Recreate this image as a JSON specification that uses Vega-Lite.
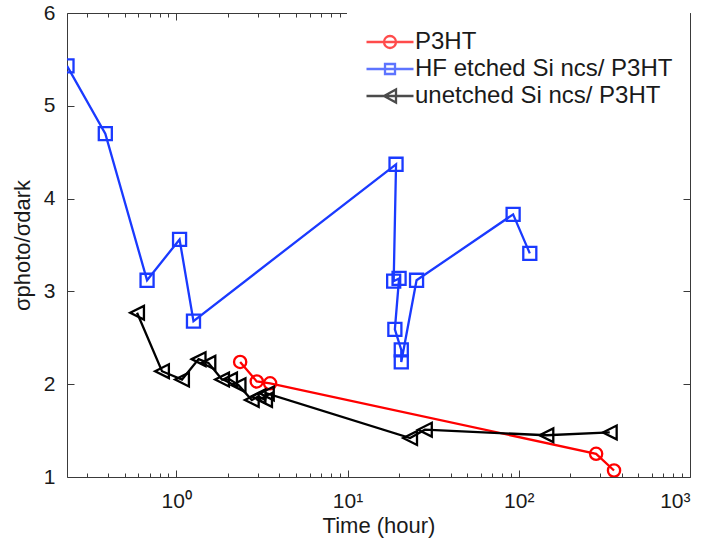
{
  "$schema": "https://vega.github.io/schema/vega-lite/v6.json",
  "width": 623,
  "height": 464,
  "autosize": "none",
  "padding": {"left": 67, "top": 13, "right": 17, "bottom": 68},
  "background": "white",
  "config": {
    "view": {"stroke": "#3a3a3a", "strokeWidth": 1},
    "font": "Liberation Sans",
    "axis": {
      "grid": false,
      "domain": false,
      "labelFont": "Liberation Sans",
      "labelFontSize": 21,
      "labelColor": "#1a1a1a",
      "titleFont": "Liberation Sans",
      "titleFontSize": 22,
      "titleFontWeight": "normal",
      "titleColor": "#1a1a1a",
      "tickColor": "#3a3a3a",
      "tickWidth": 1
    },
    "legend": {
      "labelFont": "Liberation Sans",
      "labelFontSize": 24,
      "labelColor": "#1a1a1a",
      "labelLimit": 0
    }
  },
  "data": {
    "values": [
      {"series": "P3HT", "idx": 1, "t": 2.36, "r": 2.24},
      {"series": "P3HT", "idx": 2, "t": 2.95, "r": 2.03},
      {"series": "P3HT", "idx": 3, "t": 3.53, "r": 2.01},
      {"series": "P3HT", "idx": 4, "t": 283, "r": 1.25},
      {"series": "P3HT", "idx": 5, "t": 360, "r": 1.07},

      {"series": "HF etched Si ncs/ P3HT", "idx": 1, "t": 0.23, "r": 5.43},
      {"series": "HF etched Si ncs/ P3HT", "idx": 2, "t": 0.385, "r": 4.7},
      {"series": "HF etched Si ncs/ P3HT", "idx": 3, "t": 0.675, "r": 3.12},
      {"series": "HF etched Si ncs/ P3HT", "idx": 4, "t": 1.045, "r": 3.56},
      {"series": "HF etched Si ncs/ P3HT", "idx": 5, "t": 1.26, "r": 2.68},
      {"series": "HF etched Si ncs/ P3HT", "idx": 6, "t": 19.2, "r": 4.37},
      {"series": "HF etched Si ncs/ P3HT", "idx": 7, "t": 18.6, "r": 3.11},
      {"series": "HF etched Si ncs/ P3HT", "idx": 8, "t": 20.0, "r": 3.14},
      {"series": "HF etched Si ncs/ P3HT", "idx": 9, "t": 18.9, "r": 2.59},
      {"series": "HF etched Si ncs/ P3HT", "idx": 10, "t": 20.6, "r": 2.37},
      {"series": "HF etched Si ncs/ P3HT", "idx": 11, "t": 20.6, "r": 2.24},
      {"series": "HF etched Si ncs/ P3HT", "idx": 12, "t": 25.3, "r": 3.12},
      {"series": "HF etched Si ncs/ P3HT", "idx": 13, "t": 92.7, "r": 3.83},
      {"series": "HF etched Si ncs/ P3HT", "idx": 14, "t": 116, "r": 3.41},

      {"series": "unetched Si ncs/ P3HT", "idx": 1, "t": 0.59, "r": 2.77},
      {"series": "unetched Si ncs/ P3HT", "idx": 2, "t": 0.825, "r": 2.14},
      {"series": "unetched Si ncs/ P3HT", "idx": 3, "t": 1.08, "r": 2.05},
      {"series": "unetched Si ncs/ P3HT", "idx": 4, "t": 1.35, "r": 2.27},
      {"series": "unetched Si ncs/ P3HT", "idx": 5, "t": 1.54, "r": 2.23},
      {"series": "unetched Si ncs/ P3HT", "idx": 6, "t": 1.85, "r": 2.05},
      {"series": "unetched Si ncs/ P3HT", "idx": 7, "t": 2.06, "r": 2.05},
      {"series": "unetched Si ncs/ P3HT", "idx": 8, "t": 2.31, "r": 1.99},
      {"series": "unetched Si ncs/ P3HT", "idx": 9, "t": 2.76, "r": 1.83},
      {"series": "unetched Si ncs/ P3HT", "idx": 10, "t": 3.02, "r": 1.87},
      {"series": "unetched Si ncs/ P3HT", "idx": 11, "t": 3.3, "r": 1.83},
      {"series": "unetched Si ncs/ P3HT", "idx": 12, "t": 3.38, "r": 1.9},
      {"series": "unetched Si ncs/ P3HT", "idx": 13, "t": 23.2, "r": 1.42},
      {"series": "unetched Si ncs/ P3HT", "idx": 14, "t": 28.3, "r": 1.51},
      {"series": "unetched Si ncs/ P3HT", "idx": 15, "t": 145, "r": 1.45},
      {"series": "unetched Si ncs/ P3HT", "idx": 16, "t": 340, "r": 1.48}
    ]
  },
  "resolve": {
    "axis": {"x": "independent", "y": "independent"},
    "scale": {"color": "independent", "shape": "independent"}
  },
  "layer": [
    {
      "mark": {"type": "line", "strokeWidth": 2.3, "clip": true},
      "encoding": {
        "x": {
          "field": "t", "type": "quantitative",
          "scale": {"type": "log", "domain": [0.23, 1000], "nice": false},
          "axis": {
            "orient": "bottom",
            "title": "Time (hour)",
            "values": [1, 10, 100, 1000],
            "labelExpr": "datum.value == 1 ? '10⁰' : datum.value == 10 ? '10¹' : datum.value == 100 ? '10²' : '10³'",
            "tickSize": -7,
            "labelPadding": 20,
            "titlePadding": 4
          }
        },
        "y": {
          "field": "r", "type": "quantitative",
          "scale": {"domain": [1, 6], "nice": false, "zero": false},
          "axis": {
            "orient": "left",
            "title": "σphoto/σdark",
            "values": [1, 2, 3, 4, 5, 6],
            "tickSize": -7,
            "labelPadding": 19,
            "titlePadding": 9
          }
        },
        "color": {
          "field": "series", "type": "nominal",
          "scale": {
            "domain": ["P3HT", "HF etched Si ncs/ P3HT", "unetched Si ncs/ P3HT"],
            "range": ["#ff0000", "#1a3aff", "#000000"]
          },
          "legend": null
        },
        "order": {"field": "idx", "type": "quantitative"}
      }
    },
    {
      "mark": {"type": "point", "filled": false, "strokeWidth": 2.3, "opacity": 1, "clip": true},
      "encoding": {
        "x": {
          "field": "t", "type": "quantitative",
          "axis": {
            "orient": "bottom",
            "title": null,
            "labels": false,
            "values": [0.3, 0.4, 0.5, 0.6, 0.7, 0.8, 0.9, 2, 3, 4, 5, 6, 7, 8, 9, 20, 30, 40, 50, 60, 70, 80, 90, 200, 300, 400, 500, 600, 700, 800, 900],
            "tickSize": -4
          }
        },
        "y": {
          "field": "r", "type": "quantitative",
          "axis": {
            "orient": "right",
            "title": null,
            "labels": false,
            "values": [1, 2, 3, 4, 5, 6],
            "tickSize": -7
          }
        },
        "color": {
          "field": "series", "type": "nominal",
          "scale": {
            "domain": ["P3HT", "HF etched Si ncs/ P3HT", "unetched Si ncs/ P3HT"],
            "range": ["#ff0000", "#1a3aff", "#000000"]
          },
          "legend": null
        },
        "shape": {
          "field": "series", "type": "nominal",
          "scale": {
            "domain": ["P3HT", "HF etched Si ncs/ P3HT", "unetched Si ncs/ P3HT"],
            "range": ["circle", "square", "M-1,0L1,-1L1,1Z"]
          },
          "legend": null
        },
        "size": {
          "field": "series", "type": "nominal",
          "scale": {
            "domain": ["P3HT", "HF etched Si ncs/ P3HT", "unetched Si ncs/ P3HT"],
            "range": [150, 190, 280]
          },
          "legend": null
        }
      }
    },
    {
      "mark": {"type": "point", "opacity": 0},
      "encoding": {
        "x": {
          "field": "t", "type": "quantitative",
          "axis": {
            "orient": "top",
            "title": null,
            "labels": false,
            "values": [1, 10, 100, 1000],
            "tickSize": -7
          }
        },
        "y": {"field": "r", "type": "quantitative", "axis": null}
      }
    },
    {
      "mark": {"type": "point", "opacity": 0},
      "encoding": {
        "x": {
          "field": "t", "type": "quantitative",
          "axis": {
            "orient": "top",
            "title": null,
            "labels": false,
            "values": [0.3, 0.4, 0.5, 0.6, 0.7, 0.8, 0.9, 2, 3, 4, 5, 6, 7, 8, 9, 20, 30, 40, 50, 60, 70, 80, 90, 200, 300, 400, 500, 600, 700, 800, 900],
            "tickSize": -4
          }
        },
        "y": {"field": "r", "type": "quantitative", "axis": null}
      }
    },
    {
      "description": "Key: each entry is a line segment with the series marker on it",
      "transform": [{"filter": "false"}],
      "mark": {"type": "point", "filled": false, "strokeWidth": 2.3, "size": 400},
      "encoding": {
        "color": {
          "field": "series", "type": "nominal",
          "scale": {
            "domain": ["P3HT", "HF etched Si ncs/ P3HT", "unetched Si ncs/ P3HT"],
            "range": ["#ff0000", "#1a3aff", "#000000"]
          },
          "legend": {
            "title": null,
            "orient": "top-right",
            "offset": 0,
            "padding": 17,
            "rowPadding": 3,
            "symbolSize": 400,
            "symbolStrokeWidth": 2.3,
            "labelOffset": 13,
            "symbolOffset": 14,
            "fillColor": "white"
          }
        },
        "shape": {
          "field": "series", "type": "nominal",
          "scale": {
            "domain": ["P3HT", "HF etched Si ncs/ P3HT", "unetched Si ncs/ P3HT"],
            "range": [
              "M-2.35,0H2.35M0.6,0A0.6,0.6 0 1,1 -0.6,0A0.6,0.6 0 1,1 0.6,0",
              "M-2.35,0H2.35M-0.5,-0.5H0.5V0.5H-0.5Z",
              "M-2.35,0H2.35M-0.6,0L0.6,-0.65L0.6,0.65Z"
            ]
          },
          "legend": {
            "title": null,
            "orient": "top-right",
            "offset": 0,
            "padding": 17,
            "rowPadding": 3,
            "symbolSize": 400,
            "symbolStrokeWidth": 2.3,
            "labelOffset": 13,
            "symbolOffset": 14,
            "fillColor": "white"
          }
        }
      }
    }
  ]
}
